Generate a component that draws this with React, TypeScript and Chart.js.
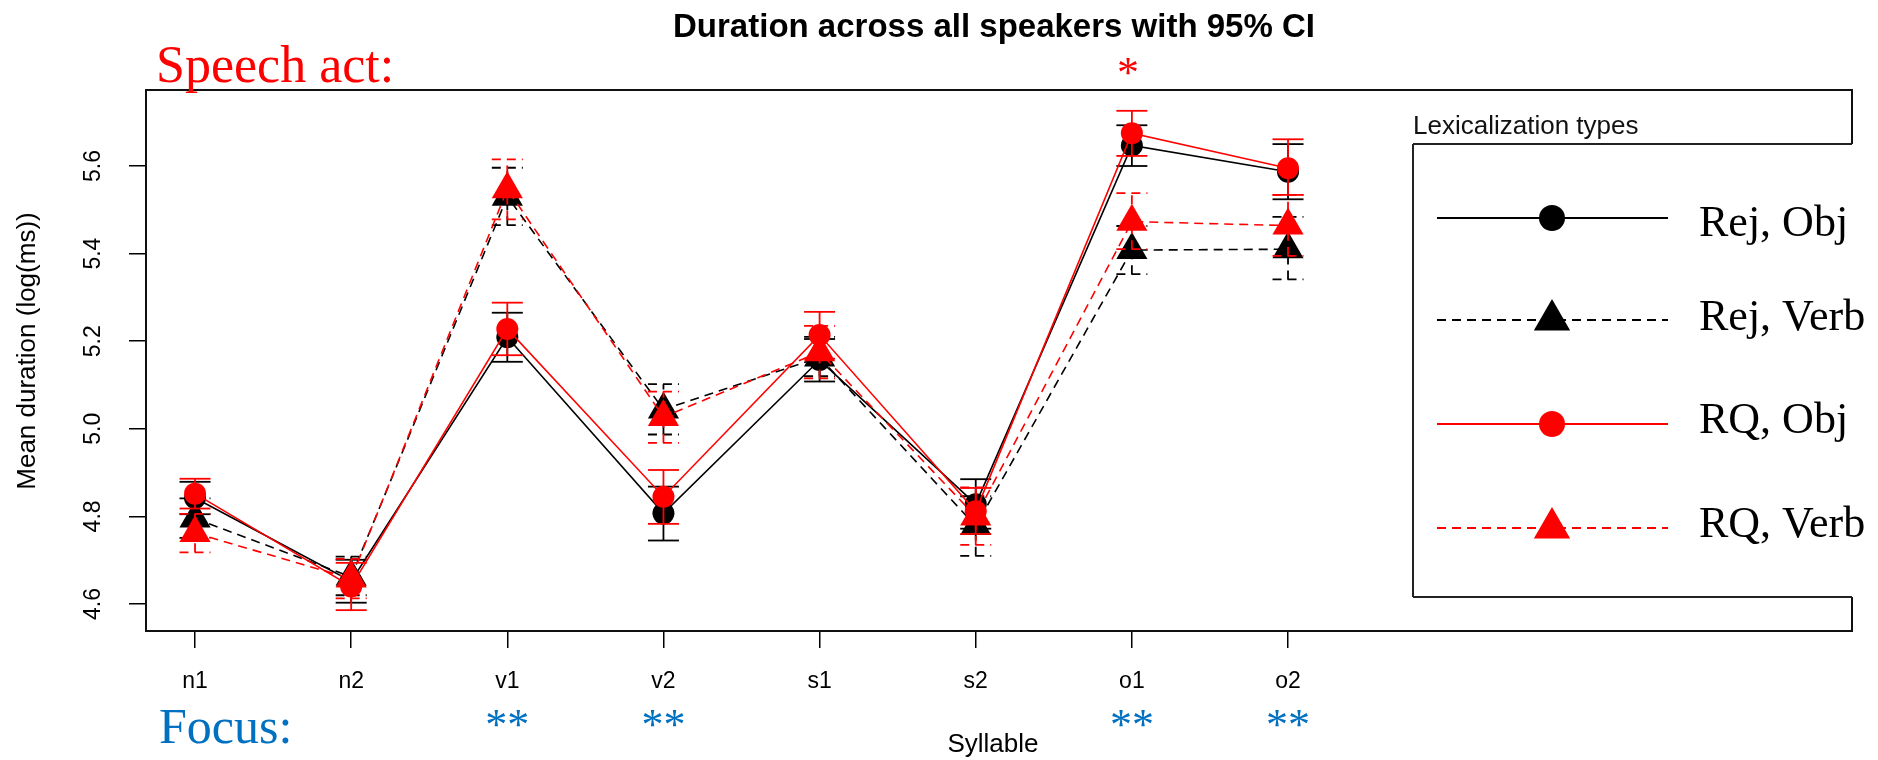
import React, { useEffect, useRef } from 'react';
import { Chart, registerables } from 'chart.js';

Chart.register(...registerables);

// ---- data ----
const categories = ['n1', 'n2', 'v1', 'v2', 's1', 's2', 'o1', 'o2'];
const xPositions = [1, 2, 3, 4, 5, 6, 7, 8];
const yTicks = [4.6, 4.8, 5.0, 5.2, 5.4, 5.6];

const seriesNames = ['Rej, Obj', 'Rej, Verb', 'RQ, Obj', 'RQ, Verb'];

const rejObj = [4.842, 4.652, 5.209, 4.807, 5.157, 4.828, 5.647, 5.587];
const rejObjLo = [4.805, 4.603, 5.153, 4.745, 5.108, 4.772, 5.600, 5.524];
const rejObjHi = [4.879, 4.701, 5.265, 4.868, 5.205, 4.885, 5.693, 5.650];

const rejVerb = [4.795, 4.662, 5.530, 5.044, 5.163, 4.778, 5.408, 5.410];
const rejVerbLo = [4.751, 4.620, 5.465, 4.987, 5.120, 4.710, 5.353, 5.341];
const rejVerbHi = [4.841, 4.708, 5.596, 5.102, 5.210, 4.846, 5.463, 5.484];

const rqObj = [4.852, 4.640, 5.228, 4.845, 5.214, 4.812, 5.675, 5.595];
const rqObjLo = [4.818, 4.586, 5.168, 4.783, 5.160, 4.760, 5.623, 5.534];
const rqObjHi = [4.886, 4.694, 5.288, 4.906, 5.267, 4.865, 5.726, 5.661];

const rqVerb = [4.762, 4.658, 5.547, 5.027, 5.175, 4.800, 5.473, 5.464];
const rqVerbLo = [4.718, 4.613, 5.478, 4.968, 5.115, 4.735, 5.410, 5.395];
const rqVerbHi = [4.806, 4.703, 5.615, 5.085, 5.235, 4.866, 5.538, 5.534];

const focusMarks = ['', '', '**', '**', '', '', '**', '**'];
const speechActMarks = ['', '', '', '', '', '', '*', ''];

// ---- styles ----
const BLACK = '#000000';
const RED = '#ff0000';
const BLUE = '#0070c0';
const DASH = [9, 6];
const SANS = '"Liberation Sans", Arial, sans-serif';
const SERIF = '"Liberation Serif", "Times New Roman", serif';

type Series = {
  name: string;
  values: number[];
  lo: number[];
  hi: number[];
  color: string;
  dash: number[];
  shape: 'circle' | 'triangle';
};

const series: Series[] = [
  { name: seriesNames[0], values: rejObj, lo: rejObjLo, hi: rejObjHi, color: BLACK, dash: [], shape: 'circle' },
  { name: seriesNames[1], values: rejVerb, lo: rejVerbLo, hi: rejVerbHi, color: BLACK, dash: DASH, shape: 'triangle' },
  { name: seriesNames[2], values: rqObj, lo: rqObjLo, hi: rqObjHi, color: RED, dash: [], shape: 'circle' },
  { name: seriesNames[3], values: rqVerb, lo: rqVerbLo, hi: rqVerbHi, color: RED, dash: DASH, shape: 'triangle' },
];

function seg(ctx: CanvasRenderingContext2D, x1: number, y1: number, x2: number, y2: number) {
  ctx.beginPath();
  ctx.moveTo(x1, y1);
  ctx.lineTo(x2, y2);
  ctx.stroke();
}

function drawMarker(ctx: CanvasRenderingContext2D, shape: string, x: number, y: number, r: number, color: string) {
  ctx.save();
  ctx.fillStyle = color;
  ctx.beginPath();
  if (shape === 'circle') {
    ctx.arc(x, y, r, 0, Math.PI * 2);
  } else {
    const a = (2 * Math.PI) / 3;
    ctx.moveTo(x, y - r);
    ctx.lineTo(x + Math.sin(a) * r, y - Math.cos(a) * r);
    ctx.lineTo(x + Math.sin(2 * a) * r, y - Math.cos(2 * a) * r);
    ctx.closePath();
  }
  ctx.fill();
  ctx.restore();
}

function centeredText(ctx: CanvasRenderingContext2D, text: string, x: number, cy: number) {
  const m = ctx.measureText(text);
  const base = cy + (m.actualBoundingBoxAscent - m.actualBoundingBoxDescent) / 2;
  ctx.fillText(text, x, base);
}

const overlayPlugin = {
  id: 'overlay',
  beforeDatasetDraw(chart: any, args: any) {
    const s = series[args.index];
    if (!s) return;
    const xs = chart.scales.x;
    const ys = chart.scales.y;
    const ctx: CanvasRenderingContext2D = chart.ctx;
    ctx.save();
    ctx.strokeStyle = s.color;
    ctx.lineWidth = 1.8;
    ctx.setLineDash(s.dash);
    const half = 15.5;
    xPositions.forEach((xv, i) => {
      const px = xs.getPixelForValue(xv);
      const pl = ys.getPixelForValue(s.lo[i]);
      const ph = ys.getPixelForValue(s.hi[i]);
      seg(ctx, px, pl, px, ph);
      seg(ctx, px - half, pl, px + half, pl);
      seg(ctx, px - half, ph, px + half, ph);
    });
    ctx.restore();
  },
  afterDraw(chart: any) {
    const ctx: CanvasRenderingContext2D = chart.ctx;
    const { left, right, top, bottom } = chart.chartArea;
    const xs = chart.scales.x;
    const ys = chart.scales.y;
    ctx.save();

    // plot box
    ctx.setLineDash([]);
    ctx.strokeStyle = '#111';
    ctx.lineWidth = 2;
    ctx.strokeRect(left, top, right - left, bottom - top);

    // y tick labels (rotated, R style)
    ctx.fillStyle = '#000';
    ctx.font = `23px ${SANS}`;
    ctx.textAlign = 'center';
    ctx.textBaseline = 'alphabetic';
    yTicks.forEach((v) => {
      const py = ys.getPixelForValue(v);
      ctx.save();
      ctx.translate(100, py);
      ctx.rotate(-Math.PI / 2);
      ctx.fillText(v.toFixed(1), 0, 0);
      ctx.restore();
    });

    // x tick labels
    categories.forEach((c, i) => {
      ctx.fillText(c, xs.getPixelForValue(xPositions[i]), 688);
    });

    // axis titles
    ctx.font = `26px ${SANS}`;
    ctx.save();
    ctx.translate(35, 351);
    ctx.rotate(-Math.PI / 2);
    ctx.fillText('Mean duration (log(ms))', 0, 0);
    ctx.restore();
    ctx.fillText('Syllable', 993, 752);

    // main title
    ctx.font = `bold 33px ${SANS}`;
    ctx.fillText('Duration across all speakers with 95% CI', 994, 37);

    // annotations
    ctx.textAlign = 'left';
    ctx.fillStyle = RED;
    ctx.font = `52px ${SERIF}`;
    ctx.fillText('Speech act:', 156, 82);
    ctx.fillStyle = BLUE;
    ctx.font = `50px ${SERIF}`;
    ctx.fillText('Focus:', 159, 743);

    ctx.textAlign = 'center';
    ctx.font = `44px ${SERIF}`;
    ctx.fillStyle = BLUE;
    focusMarks.forEach((m, i) => {
      if (m) centeredText(ctx, m, xs.getPixelForValue(xPositions[i]), 718);
    });
    ctx.fillStyle = RED;
    speechActMarks.forEach((m, i) => {
      if (m) centeredText(ctx, m, xs.getPixelForValue(xPositions[i]) - 4, 66);
    });

    // legend
    const lx = 1413;
    const ltop = 144;
    const lbot = 597;
    ctx.fillStyle = '#fff';
    ctx.fillRect(lx, ltop, 1878 - lx, lbot - ltop);
    ctx.strokeStyle = '#222';
    ctx.lineWidth = 2;
    seg(ctx, lx, ltop, lx, lbot);
    seg(ctx, lx, ltop, right, ltop);
    seg(ctx, lx, lbot, right, lbot);

    ctx.fillStyle = '#111';
    ctx.textAlign = 'left';
    ctx.font = `26px ${SANS}`;
    ctx.fillText('Lexicalization types', 1413, 134);

    const rowLine = [218, 320, 424, 528];
    const rowBase = [236, 330, 433, 537];
    series.forEach((s, i) => {
      ctx.save();
      ctx.strokeStyle = s.color;
      ctx.lineWidth = 1.8;
      ctx.setLineDash(s.dash);
      seg(ctx, 1437, rowLine[i], 1668, rowLine[i]);
      ctx.restore();
      drawMarker(ctx, s.shape, 1552, rowLine[i], s.shape === 'circle' ? 13 : 21, s.color);
      ctx.fillStyle = '#000';
      ctx.font = `44px ${SERIF}`;
      ctx.fillText(s.name, 1699, rowBase[i]);
    });

    ctx.restore();
  },
};

export default function App() {
  const canvasRef = useRef<HTMLCanvasElement | null>(null);

  useEffect(() => {
    const canvas = canvasRef.current;
    if (!canvas) return;
    const n = series.length;
    const chart = new Chart(canvas, {
      type: 'line',
      data: {
        datasets: series.map((s, k) => ({
          label: s.name,
          data: xPositions.map((x, i) => ({ x, y: s.values[i] })),
          borderColor: s.color,
          backgroundColor: s.color,
          borderWidth: 1.6,
          borderDash: s.dash,
          pointStyle: s.shape,
          pointRadius: s.shape === 'circle' ? 11 : 18,
          pointHoverRadius: s.shape === 'circle' ? 11 : 18,
          pointBackgroundColor: s.color,
          pointBorderColor: s.color,
          pointBorderWidth: 0,
          tension: 0,
          order: n - k,
        })),
      },
      options: {
        responsive: false,
        animation: false,
        events: [],
        layout: { padding: { left: 0, top: 90, right: 26, bottom: 0 } },
        plugins: {
          legend: { display: false },
          tooltip: { enabled: false },
          title: { display: false },
        },
        scales: {
          x: {
            type: 'linear',
            min: 0.686,
            max: 11.612,
            afterBuildTicks: (s: any) => {
              s.ticks = xPositions.map((v) => ({ value: v }));
            },
            afterFit: (s: any) => {
              s.height = 129;
            },
            ticks: { display: false },
            grid: { display: true, drawOnChartArea: false, drawTicks: true, tickLength: 17, color: '#000', lineWidth: 1.5 },
            border: { display: false },
          },
          y: {
            type: 'linear',
            min: 4.5384,
            max: 5.7735,
            afterBuildTicks: (s: any) => {
              s.ticks = yTicks.map((v) => ({ value: v }));
            },
            afterFit: (s: any) => {
              s.width = 146;
            },
            ticks: { display: false },
            grid: { display: true, drawOnChartArea: false, drawTicks: true, tickLength: 17, color: '#000', lineWidth: 1.5 },
            border: { display: false },
          },
        },
      },
      plugins: [overlayPlugin],
    } as any);
    return () => chart.destroy();
  }, []);

  return (
    <div style={{ position: 'absolute', left: 0, top: 0, width: 1878, height: 760, background: '#fff' }}>
      <canvas ref={canvasRef} width={1878} height={760} style={{ display: 'block', width: 1878, height: 760 }} />
    </div>
  );
}
